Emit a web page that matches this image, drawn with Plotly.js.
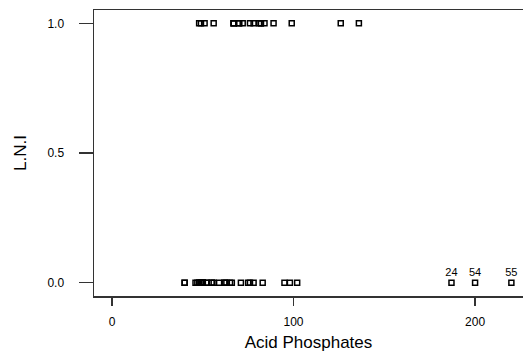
<!DOCTYPE html>
<html>
<head>
<meta charset="utf-8">
<script src="https://cdn.plot.ly/plotly-3.0.1.min.js"></script>
<style>html,body{margin:0;padding:0;background:#fff;}#chart{width:523px;height:357px;}</style>
</head>
<body>
<div id="chart"></div>
<script>
// Acid phosphatase, patients without nodal involvement (L.N.I = 0)
const acidNoLNI = [48,56,50,52,50,49,46,62,55,62,71,65,47,49,50,78,83,98,52,75,40,50,50,40,55,59,48,63,102,76,95,66];
// Acid phosphatase, patients with nodal involvement (L.N.I = 1)
const acidLNI = [56,67,99,136,82,48,51,49,84,81,76,70,78,70,67,82,67,72,89,126];
// Labelled outliers (L.N.I = 0)
const outlierAcid = [187,200,220];
const outlierId = ['24','54','55'];
const yTickVals = [0,0.5,1];
const xTickVals = [0,100,200];

const mk = {symbol:'square-open', size:5, color:'#000', line:{width:1.5, color:'#000'}};
const traces = [
  {x: acidNoLNI, y: acidNoLNI.map(()=>0), type:'scatter', mode:'markers', marker: mk, hoverinfo:'x+y'},
  {x: acidLNI, y: acidLNI.map(()=>1), type:'scatter', mode:'markers', marker: mk, hoverinfo:'x+y'},
  {x: outlierAcid, y: outlierAcid.map(()=>0), text: outlierId, type:'scatter', mode:'markers+text',
   textposition:'top center', textfont:{size:11, color:'#000', family:'Liberation Sans, Arial, sans-serif'},
   marker: mk, hoverinfo:'x+y+text'}
];
const layout = {
  width:523, height:357,
  margin:{l:94, r:0, t:10, b:61, pad:0},
  paper_bgcolor:'#fff', plot_bgcolor:'#fff',
  showlegend:false,
  font:{family:'Liberation Sans, Arial, sans-serif', color:'#000', size:12},
  xaxis:{
    range:[-9.92, 226.4], tickvals:xTickVals, ticks:'outside', ticklen:8, tickwidth:1.5, tickcolor:'#333',
    showline:true, linecolor:'#333', linewidth:1.5, mirror:true, showgrid:false, zeroline:false,
    tickfont:{size:12}, ticklabelstandoff:6,
    title:{text:'Acid Phosphates', font:{size:17}, standoff:8}, automargin:false
  },
  yaxis:{
    range:[-0.0513, 1.0513], tickvals:yTickVals, tickformat:'.1f', ticks:'outside', ticklen:14, tickwidth:1.5, tickcolor:'#333',
    showline:true, linecolor:'#333', linewidth:1.5, mirror:false, showgrid:false, zeroline:false,
    tickfont:{size:12}, ticklabelstandoff:12,
    title:{text:'L.N.I', font:{size:17}, standoff:16}, automargin:false
  }
};
Plotly.newPlot('chart', traces, layout, {displayModeBar:false, staticPlot:true});
</script>
</body>
</html>
